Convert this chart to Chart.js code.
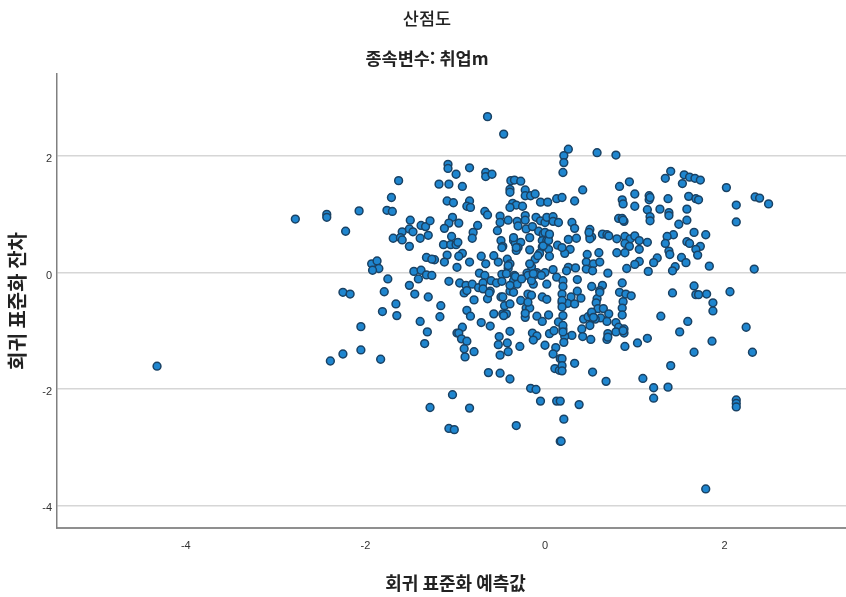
<!DOCTYPE html>
<html lang="ko">
<head>
<meta charset="utf-8">
<title>산점도</title>
<style>
html,body{margin:0;padding:0;background:#fff;width:846px;height:597px;overflow:hidden}
canvas{display:block}
</style>
<script src="https://cdn.jsdelivr.net/npm/chart.js@4"></script>
</head>
<body>
<canvas id="c" width="854" height="597"></canvas>
<script>
const chartTitle = '산점도';
const chartSubtitle = '종속변수: 취업m';
const xAxisTitle = '회귀 표준화 예측값';
const yAxisTitle = '회귀 표준화 잔차';
const xTicks = [-4, -2, 0, 2];
const yTicks = [-4, -2, 0, 2];
const predicted = [
-1.63,-1.71,-1.76,-1.70,-2.07,-2.43,-2.43,-2.78,-2.22,-1.50,
-1.38,-1.33,-1.28,-1.59,-1.51,-1.47,-1.30,-1.69,-1.61,-1.59,
-1.39,-1.51,-1.32,-1.93,-1.87,-1.85,-1.92,-1.46,-1.38,-1.32,
-1.75,-2.25,-2.17,-1.79,-1.51,-1.45,-1.41,-1.30,-1.66,-1.81,
-1.65,-1.39,-1.31,-1.34,-2.05,-2.05,-2.25,-2.39,-1.83,-1.28,
-4.32,
-0.64,-0.46,-1.08,-1.08,-0.99,-0.84,-0.66,-0.66,-0.59,-1.18,
-1.07,-0.92,-0.38,-0.34,-0.27,-0.39,-0.39,-0.22,-0.22,-0.16,
-0.11,0.13,-1.09,-1.02,-0.84,-0.87,-0.83,-0.05,0.03,-0.36,
-0.32,-0.25,-0.39,-0.67,-0.64,-0.22,-0.22,-0.50,-0.50,-0.41,
-0.31,-0.30,-0.10,-0.05,0.00,0.02,0.09,0.09,0.15,-1.03,
-1.07,-0.96,-1.12,-0.75,-0.53,-0.21,-0.14,-0.07,-0.02,0.04,
-0.17,-0.80,-0.81,-1.04,-1.13,-1.05,-0.99,-0.97,-0.49,-0.47,
-0.35,-0.33,-0.27,-0.30,-0.32,-0.03,0.02,-0.03,-0.17,0.14,
-0.06,0.04,-0.11,0.05,-1.23,-1.26,-1.09,-0.92,-0.96,-1.12,
-0.71,-0.66,-0.57,-0.52,-0.84,-0.98,-0.42,-0.39,-0.41,-0.15,
0.09,-0.73,-0.67,-0.20,-0.09,0.00,-0.34,
-1.26,-1.07,-0.95,-0.88,-0.81,-0.90,-0.87,-0.48,-0.74,-0.69,
-0.69,-0.60,-0.61,-0.54,-0.48,-0.79,-0.64,-0.49,-1.16,-1.17,
-0.87,-0.83,-0.57,-0.47,-0.43,-0.45,-0.39,-0.71,-0.61,-0.92,
-0.98,-0.96,-0.93,-0.87,-0.90,-0.89,-0.79,-0.39,-0.51,-0.52,
-0.42,-0.41,-0.50,-0.28,-0.63,-0.50,-0.39,-0.14,-0.09,-0.13,
0.00,0.05,0.10,0.12,0.09,0.17,0.11,0.16,-0.16,-0.10,
-0.05,0.13,-1.03,-0.84,-1.07,-1.01,-0.32,0.17,-0.35,-0.31,
-0.39,-0.35,-0.19,-0.10,-0.13,0.02,-0.03,0.02,-0.19,-0.15,
-0.27,-0.21,-0.17,-0.22,-0.09,-0.03,0.04,0.15,0.13,
0.26,0.21,0.21,0.20,0.58,0.79,1.40,1.34,1.55,1.53,
1.61,0.94,0.83,0.42,1.00,0.86,0.87,1.00,1.16,1.16,
1.37,1.60,0.19,0.33,1.14,1.28,1.17,1.17,1.38,1.38,
1.58,1.58,1.49,0.82,0.86,0.88,0.30,0.33,0.50,0.50,
0.52,0.64,0.69,0.71,0.26,0.35,0.80,0.89,0.95,1.00,
1.05,1.14,0.89,0.94,1.43,1.36,1.34,1.58,1.61,1.05,
0.80,0.89,1.38,1.39,0.28,0.22,0.19,0.47,0.60,0.46,
0.54,0.61,0.46,0.53,1.25,1.21,1.05,1.00,1.52,1.57,
1.45,1.42,0.91,1.15,0.70,0.26,0.34,0.24,
0.36,0.52,0.64,0.61,0.86,0.83,0.90,0.96,1.42,0.20,
0.20,0.19,0.19,0.20,0.29,0.25,0.33,0.36,0.40,0.58,
0.57,0.87,0.86,0.86,0.59,0.65,0.71,0.62,0.69,0.43,
0.48,0.52,0.56,0.50,1.29,1.59,0.79,0.82,0.88,0.79,
0.88,0.70,0.69,0.41,0.42,0.51,0.30,0.22,0.21,0.20,
0.89,1.03,1.14,1.50,0.19,0.19,0.19,0.33,0.53,0.68,
1.09,1.40,1.21,1.37,1.21,0.38,0.21,0.18,0.17,
1.67,1.73,1.68,1.71,2.02,2.13,2.34,2.39,2.49,2.13,
1.66,1.79,1.73,1.68,1.70,1.83,2.33,
1.66,1.68,1.71,1.80,2.06,1.87,1.87,2.24,1.86,1.66,
2.31,2.13,2.13,2.13,1.79,
-0.39,-0.33,-0.26,-0.43,-0.15,-0.04,-0.46,-0.22,-0.62,-0.47,
-0.19,-0.35,-0.48,-0.32,-0.02,-0.08,-0.17,-0.13,-0.41,0.00,
0.04,0.05,0.52,0.54,0.70,0.87,0.20,0.20,0.19,0.19,
0.61,0.50,0.49,1.17,0.87
];
const residuals = [
1.58,1.29,1.07,1.05,1.06,1.00,0.95,0.92,0.71,0.90,
0.81,0.79,0.89,0.70,0.75,0.70,0.64,0.59,0.60,0.56,
0.59,0.45,0.26,0.15,0.20,0.07,0.04,0.02,0.04,-0.04,
-0.11,-0.34,-0.37,-0.33,-0.22,-0.37,-0.11,-0.42,-0.54,-0.67,
-0.74,-0.84,-1.02,-1.22,-0.93,-1.33,-1.40,-1.52,-1.49,-2.32,
-1.61,
2.68,2.38,1.86,1.79,1.69,1.80,1.72,1.65,1.69,1.52,
1.52,1.48,1.58,1.59,1.57,1.43,1.38,1.42,1.32,1.32,
1.35,1.27,1.23,1.20,1.23,1.14,1.12,1.21,1.21,1.19,
1.16,1.14,1.12,1.05,0.99,0.98,0.90,0.97,0.86,0.90,
0.88,0.80,0.95,0.89,0.86,0.95,0.96,0.88,0.86,0.95,
0.85,0.85,0.76,0.81,0.72,0.75,0.79,0.71,0.66,0.63,
0.60,0.69,0.59,0.62,0.48,0.48,0.48,0.52,0.55,0.45,
0.55,0.50,0.52,0.43,0.38,0.55,0.55,0.44,0.39,0.47,
0.33,0.40,0.23,0.28,0.22,0.23,0.30,0.33,0.28,0.18,
0.28,0.15,0.29,0.18,0.18,0.09,0.23,0.15,0.07,0.10,
0.05,-0.01,-0.05,-0.01,0.00,0.00,-0.05,
-0.05,-0.15,-0.18,-0.22,-0.20,-0.35,-0.31,-0.03,-0.26,-0.18,
-0.28,-0.14,-0.32,-0.18,-0.15,-0.47,-0.45,-0.42,-0.57,-0.76,
-0.65,-0.75,-0.71,-0.71,-0.71,-0.57,-0.54,-0.86,-0.92,-0.94,
-1.04,-1.04,-1.14,-1.18,-1.31,-1.45,-1.36,-1.01,-1.10,-1.24,
-1.21,-1.36,-1.42,-1.27,-1.72,-1.73,-1.83,-1.04,-1.09,-1.16,
-1.25,-1.05,-1.00,-1.29,-1.40,-1.48,-1.65,-1.68,-1.99,-2.01,
-2.21,-2.21,-2.10,-2.33,-2.68,-2.70,-2.63,-2.90,-0.14,-0.20,
-0.32,-0.34,-0.05,-0.03,-0.20,-0.20,-0.42,-0.46,-0.37,-0.39,
-0.48,-0.61,-0.61,-0.77,-0.75,-0.84,-0.73,-0.85,-0.08,
2.12,2.01,1.89,1.72,2.06,2.02,1.74,1.62,1.68,1.53,
1.64,1.56,1.48,1.42,1.35,1.25,1.18,1.14,1.32,1.25,
1.27,1.31,1.29,1.23,1.08,1.09,0.96,0.89,1.03,0.98,
1.09,0.90,0.83,0.93,0.93,0.88,0.86,0.76,0.74,0.63,
0.61,0.66,0.65,0.63,0.57,0.59,0.58,0.62,0.58,0.63,
0.55,0.52,0.50,0.45,0.65,0.62,0.50,0.53,0.50,0.40,
0.34,0.34,0.37,0.31,0.40,0.33,0.43,0.31,0.34,0.18,
0.15,0.18,0.06,0.03,0.25,0.17,0.19,0.14,0.26,0.17,
0.10,0.03,0.07,0.02,-0.01,0.09,0.08,0.03,
-0.12,-0.24,-0.22,-0.31,-0.18,-0.34,-0.37,-0.40,-0.35,-0.14,
-0.24,-0.37,-0.52,-0.74,-0.42,-0.53,-0.54,-0.32,-0.44,-0.45,
-0.52,-0.50,-0.61,-0.73,-0.62,-0.62,-0.71,-0.78,-0.84,-0.80,
-0.76,-0.71,-0.80,-0.91,-0.75,-0.84,-0.86,-0.94,-0.97,-1.02,
-1.04,-1.05,-1.15,-0.97,-1.10,-1.15,-1.08,-1.10,-1.20,-0.97,
-1.27,-1.21,-1.13,-1.02,-1.48,-1.60,-1.69,-1.56,-1.71,-1.87,
-1.82,-1.60,-1.98,-1.97,-2.16,-2.27,-2.52,-2.90,-2.21,
1.62,1.59,1.27,1.25,1.46,1.16,1.30,1.28,1.18,0.87,
0.69,0.65,0.45,0.40,0.30,0.11,0.06,
-0.23,-0.38,-0.38,-0.37,-0.33,-0.52,-0.66,-0.94,-1.18,-1.37,
-1.37,-2.19,-2.25,-2.31,-3.72,
-0.22,-0.07,-0.11,-0.02,-0.14,-0.05,-0.74,-0.70,-0.35,-0.42,
-0.51,0.60,0.43,0.43,0.46,0.29,0.15,-0.02,0.12,0.69,
0.55,0.66,-0.68,-0.77,-1.11,-1.00,-0.91,-1.02,-0.48,-0.59,
-0.34,0.58,0.69,1.29,0.90
];

new Chart(document.getElementById('c'), {
  type: 'scatter',
  data: {
    datasets: [{
      label: '회귀 표준화 잔차',
      data: predicted.map((x, i) => ({ x, y: residuals[i] })),
      backgroundColor: '#1f86cf',
      borderColor: '#1a4264',
      borderWidth: 1.5,
      pointRadius: 3.9,
      pointHoverRadius: 3.9
    }]
  },
  options: {
    responsive: false,
    animation: false,
    layout: { padding: 0, autoPadding: false },
    plugins: {
      legend: { display: false },
      tooltip: { enabled: false },
      title: {
        display: true,
        text: chartTitle,
        color: '#222',
        font: { family: '"Noto Sans CJK KR"', size: 17.5, weight: '500', lineHeight: 1.2 },
        padding: { top: 8, bottom: 10 }
      },
      subtitle: {
        display: true,
        text: chartSubtitle,
        color: '#222',
        font: { family: '"Noto Sans CJK KR"', size: 17.5, weight: 'bold', lineHeight: 1.2 },
        padding: { top: 9, bottom: 5 }
      }
    },
    scales: {
      x: {
        type: 'linear',
        min: -5.434,
        max: 3.441,
        afterBuildTicks: s => { s.ticks = xTicks.map(value => ({ value })); },
        afterFit: s => { s.height = 69; },
        grid: { display: false, drawTicks: false },
        border: { display: true, color: '#8f8f8f', width: 2 },
        ticks: { color: '#333', padding: 11, maxRotation: 0, autoSkip: false,
                 font: { family: '"Liberation Sans"', size: 11 } },
        title: {
          display: true, text: xAxisTitle, color: '#222',
          font: { family: '"Noto Sans CJK KR"', size: 18, weight: 'bold', lineHeight: 1.2 },
          padding: { top: 0, bottom: 3 }
        }
      },
      y: {
        type: 'linear',
        min: -4.391,
        max: 3.413,
        afterBuildTicks: s => { s.ticks = yTicks.map(value => ({ value })); },
        afterFit: s => { s.width = 57; },
        grid: { color: '#d6d6d6', lineWidth: 1.5, drawTicks: false },
        border: { display: true, color: '#808080', width: 1.5 },
        ticks: { color: '#333', padding: 5, labelOffset: 3, autoSkip: false,
                 font: { family: '"Liberation Sans"', size: 11 } },
        title: {
          display: true, text: yAxisTitle, color: '#222',
          font: { family: '"Noto Sans CJK KR"', size: 20, weight: 'bold', lineHeight: 1.2 },
          padding: { top: 5, bottom: 0 }
        }
      }
    }
  }
});
</script>
</body>
</html>
